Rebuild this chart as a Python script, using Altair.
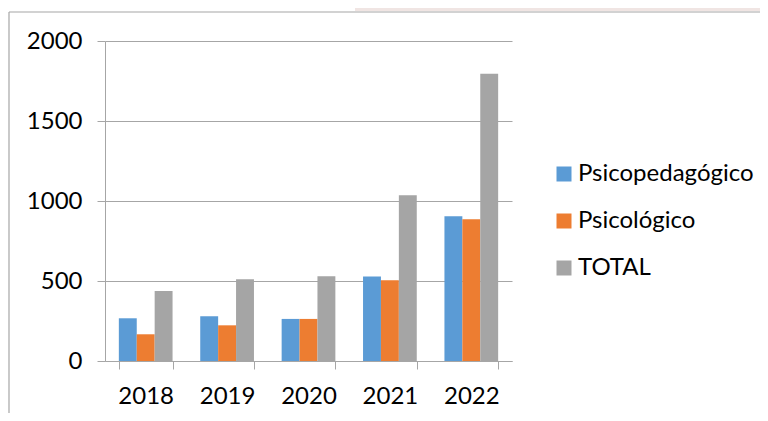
import altair as alt
import pandas as pd

years = ["2018", "2019", "2020", "2021", "2022"]
series = ["Psicopedagógico", "Psicológico", "TOTAL"]
psicopedagogico = [267, 279, 263, 528, 905]
psicologico = [167, 223, 263, 505, 886]
total = [438, 511, 530, 1036, 1796]
colors = ["#5B9BD5", "#ED7D31", "#A5A5A5"]
y_ticks = [0, 500, 1000, 1500, 2000]

rows = []
for name, vals in zip(series, [psicopedagogico, psicologico, total]):
    for yr, v in zip(years, vals):
        rows.append({"year": yr, "series": name, "value": v})
df = pd.DataFrame(rows)

FONT = "Lato"
GRID = "#a6a6a6"

bars = alt.Chart(df).mark_bar().encode(
    x=alt.X("year:N", sort=years, title=None,
            scale=alt.Scale(paddingInner=0.34, paddingOuter=0.17),
            axis=alt.Axis(labelAngle=0, tickBand="extent", tickSize=8,
                          labelPadding=15, domainColor=GRID, tickColor=GRID,
                          labelFont=FONT, labelFontSize=24, labelColor="black",
                          grid=False)),
    xOffset=alt.XOffset("series:N", sort=series, scale=alt.Scale(paddingInner=0, paddingOuter=0)),
    y=alt.Y("value:Q", title=None,
            scale=alt.Scale(domain=[0, 2000], nice=False),
            axis=alt.Axis(values=y_ticks, format="d", grid=True, gridColor=GRID,
                          domainColor=GRID, tickColor=GRID, tickSize=8, labelPadding=15,
                          labelFont=FONT, labelFontSize=24, labelColor="black")),
    color=alt.Color("series:N", sort=series,
                    scale=alt.Scale(domain=series, range=colors),
                    legend=alt.Legend(orient="none", legendX=447, legendY=121, title=None,
                                      symbolType="square", symbolSize=225,
                                      symbolStrokeWidth=0, labelFont=FONT,
                                      labelFontSize=24, labelColor="black", labelLimit=0,
                                      rowPadding=23, labelOffset=2)),
)

one = pd.DataFrame({"a": [0]})
pink = alt.Chart(one).mark_rect(color="#f0e5e3").encode(
    x=alt.value(250), x2=alt.value(663), y=alt.value(-41), y2=alt.value(-30))
top_line = alt.Chart(one).mark_rule(color=GRID, strokeWidth=1.2).encode(
    x=alt.value(-96), x2=alt.value(663), y=alt.value(-29))
left_line = alt.Chart(one).mark_rule(color=GRID, strokeWidth=1.2).encode(
    x=alt.value(-96), y=alt.value(-29), y2=alt.value(372))

chart = alt.layer(pink, top_line, left_line, bars).properties(
    width=407, height=320,
    autosize=alt.AutoSizeParams(type="none"),
    padding={"left": 97, "top": 33, "right": 248, "bottom": 52},
).configure_view(stroke="transparent")

chart.save("out.html", embed_options={"renderer": "svg", "actions": False})
